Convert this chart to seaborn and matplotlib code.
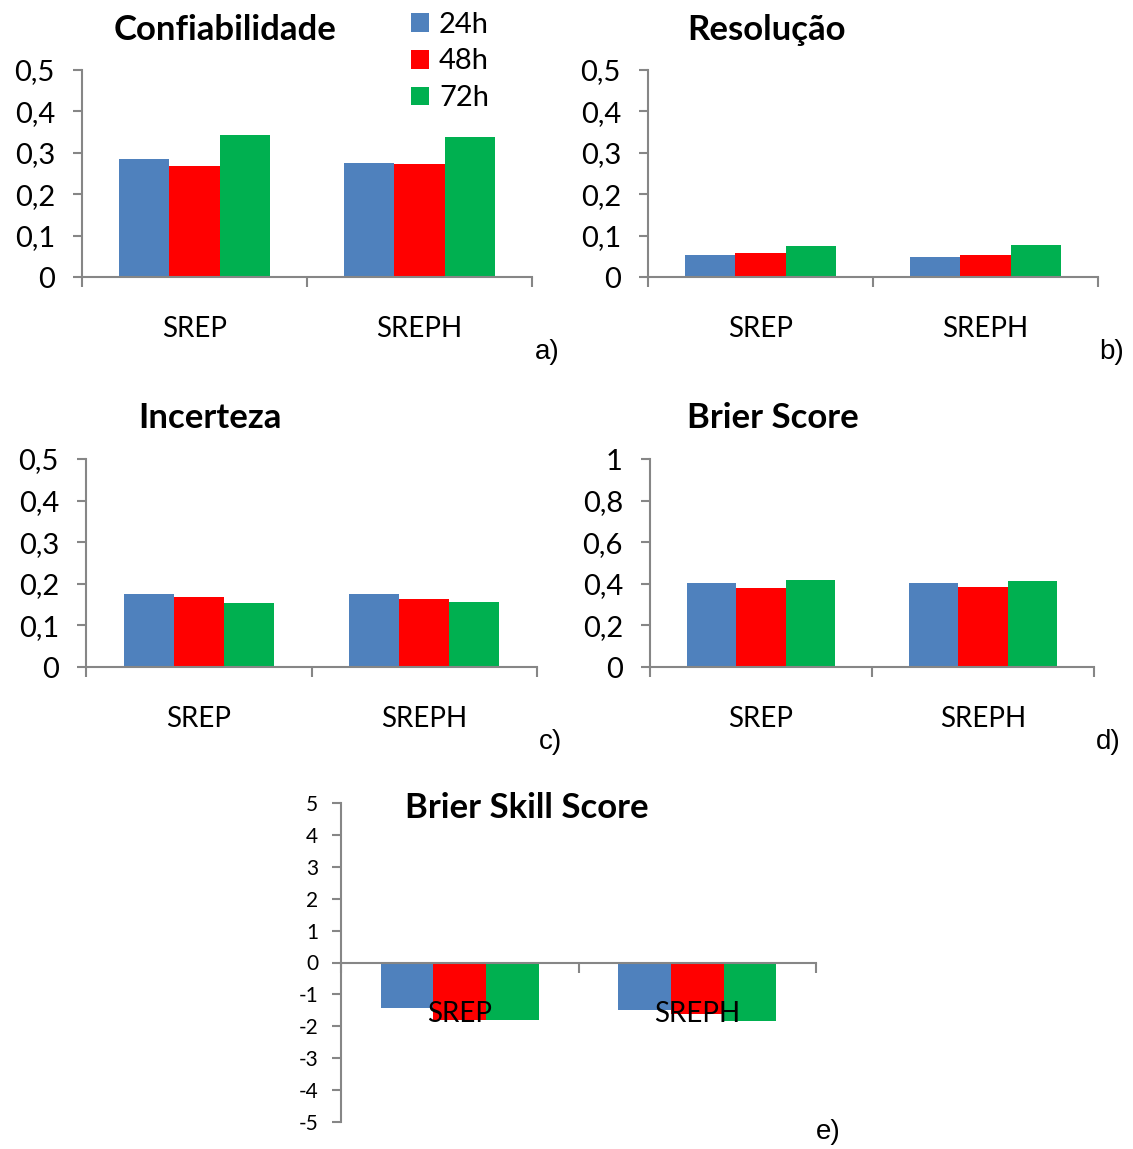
import matplotlib
matplotlib.use("Agg")
import matplotlib.pyplot as plt
from matplotlib.ticker import FixedLocator, FuncFormatter
from matplotlib.patches import Patch
import pandas as pd
import seaborn as sns

# ---- data ---------------------------------------------------------------
categorias = ["SREP", "SREPH"]
horizontes = ["24h", "48h", "72h"]

confiabilidade_24h = [0.285, 0.275]
confiabilidade_48h = [0.268, 0.272]
confiabilidade_72h = [0.342, 0.337]

resolucao_24h = [0.054, 0.049]
resolucao_48h = [0.058, 0.054]
resolucao_72h = [0.075, 0.078]

incerteza_24h = [0.175, 0.175]
incerteza_48h = [0.169, 0.163]
incerteza_72h = [0.153, 0.156]

brier_24h = [0.403, 0.403]
brier_48h = [0.379, 0.384]
brier_72h = [0.417, 0.413]

bss_24h = [-1.43, -1.49]
bss_48h = [-1.81, -1.62]
bss_72h = [-1.80, -1.83]

titulos = ["Confiabilidade", "Resolução", "Incerteza", "Brier Score", "Brier Skill Score"]
letras = ["a)", "b)", "c)", "d)", "e)"]

# ---- style --------------------------------------------------------------
sns.set_style("white")
plt.rcParams["font.family"] = ["Lato", "DejaVu Sans"]
plt.rcParams["text.color"] = "black"
plt.rcParams["xtick.labelcolor"] = "black"
plt.rcParams["ytick.labelcolor"] = "black"

cores = {"24h": "#4F81BD", "48h": "#FF0000", "72h": "#00B050"}
cinza = "#868686"

W, H = 1133, 1149
fig = plt.figure(figsize=(W / 100, H / 100), dpi=100)


def build_frame(s24, s48, s72):
    rows = []
    for h, serie in zip(horizontes, [s24, s48, s72]):
        for c, v in zip(categorias, serie):
            rows.append({"categoria": c, "horizonte": h, "valor": v})
    return pd.DataFrame(rows)


def virgula(v, pos):
    if abs(v - round(v)) < 1e-9:
        return f"{int(round(v))}"
    return f"{v:.1f}".replace(".", ",")


def px_axes(left, top, right, bottom):
    return fig.add_axes([left / W, 1 - bottom / H, (right - left) / W, (bottom - top) / H])


paineis = [
    dict(series=(confiabilidade_24h, confiabilidade_48h, confiabilidade_72h),
         box=(82, 70, 532, 277), ylim=(0, 0.5), step=0.1, fs=21, pad=13,
         title_xy=(225, 30), letter_xy=(547, 352)),
    dict(series=(resolucao_24h, resolucao_48h, resolucao_72h),
         box=(648, 70, 1098, 277), ylim=(0, 0.5), step=0.1, fs=21, pad=13,
         title_xy=(767, 30), letter_xy=(1112, 352)),
    dict(series=(incerteza_24h, incerteza_48h, incerteza_72h),
         box=(86, 459, 537, 667), ylim=(0, 0.5), step=0.1, fs=21, pad=13,
         title_xy=(210, 418), letter_xy=(550, 742)),
    dict(series=(brier_24h, brier_48h, brier_72h),
         box=(650, 459, 1094, 667), ylim=(0, 1.0), step=0.2, fs=21, pad=13,
         title_xy=(773, 418), letter_xy=(1108, 742)),
    dict(series=(bss_24h, bss_48h, bss_72h),
         box=(341, 803, 816, 1122), ylim=(-5, 5), step=1, fs=15, pad=10,
         title_xy=(527, 808), letter_xy=(828, 1132)),
]

for i, p in enumerate(paineis):
    ax = px_axes(*p["box"])
    df = build_frame(*p["series"])
    sns.barplot(data=df, x="categoria", y="valor", hue="horizonte",
                order=categorias, hue_order=horizontes, palette=cores,
                saturation=1, width=0.667, linewidth=0, legend=False,
                errorbar=None, ax=ax)
    for bar in ax.patches:
        bar.set_zorder(1)
    ax.set_axisbelow(False)
    ax.set_xlim(-0.5, 1.5)
    lo, hi = p["ylim"]
    ax.set_ylim(lo, hi)
    n = int(round((hi - lo) / p["step"]))
    ax.yaxis.set_major_locator(FixedLocator([lo + k * p["step"] for k in range(n + 1)]))
    ax.yaxis.set_major_formatter(FuncFormatter(virgula))
    ax.set_xlabel("")
    ax.set_ylabel("")

    for s in ["top", "right"]:
        ax.spines[s].set_visible(False)
    for s in ["left", "bottom"]:
        ax.spines[s].set_color(cinza)
        ax.spines[s].set_linewidth(1.5)
    ax.spines["bottom"].set_position(("data", 0))
    ax.spines["bottom"].set_zorder(3)

    ax.tick_params(axis="y", which="major", direction="out", length=6.5, width=1.5,
                   color=cinza, labelsize=p["fs"], pad=p["pad"], left=True)
    ax.xaxis.set_minor_locator(FixedLocator([-0.5, 0.5, 1.5]))
    ax.tick_params(axis="x", which="minor", direction="out", length=7, width=1.5,
                   color=cinza, bottom=True)
    ax.tick_params(axis="x", which="major", length=0, labelsize=20, pad=28)

    fig.text(p["title_xy"][0] / W, 1 - p["title_xy"][1] / H, titulos[i],
             ha="center", va="center", fontsize=25, fontweight="bold")
    fig.text(p["letter_xy"][0] / W, 1 - p["letter_xy"][1] / H, letras[i],
             ha="center", va="center", fontsize=20, family="Liberation Sans")

handles = [Patch(facecolor=cores[h], edgecolor="none", label=h) for h in horizontes]
fig.legend(handles=handles, loc="upper left",
           bbox_to_anchor=(399 / W, 1 - 0 / H), frameon=False, fontsize=21,
           handlelength=0.62, handleheight=0.62, handletextpad=0.35,
           labelspacing=0.37, borderaxespad=0)

fig.savefig("out.png", dpi=100)
